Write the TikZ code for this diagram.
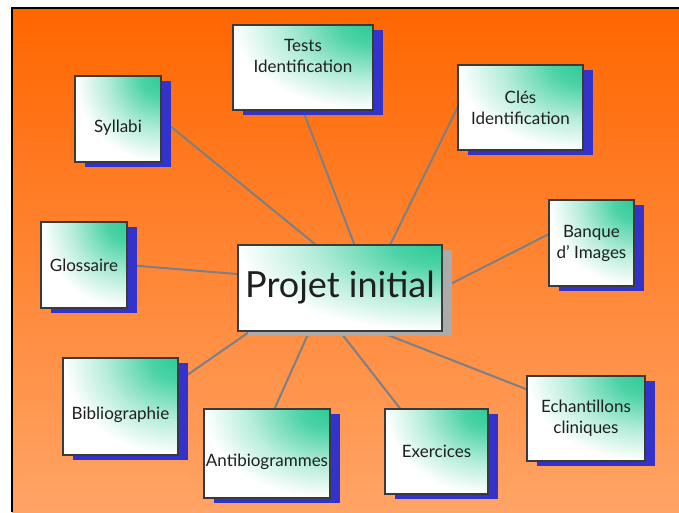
\documentclass[tikz,border=0pt]{standalone}
\usepackage{fontspec}
\setmainfont{Lato}
\usetikzlibrary{calc,shadows}
\definecolor{SkyOrange}{HTML}{FF6600}
\definecolor{PeachOrange}{HTML}{FFA466}
\definecolor{BoxGreen}{HTML}{2DCB97}
\definecolor{ShadowBlue}{HTML}{3333CC}
\definecolor{ShadowGray}{HTML}{ABABAB}
\definecolor{LinkGray}{HTML}{7C8084}
\definecolor{EdgeGray}{HTML}{3A3A3A}
\pgfdeclareradialshading{cornerglow}{\pgfpointorigin}{color(0bp)=(BoxGreen); color(6bp)=(BoxGreen!85!white); color(16bp)=(BoxGreen!35!white); color(25bp)=(white); color(50bp)=(white)}
\pgfdeclarelayer{backdrop}
\pgfdeclarelayer{links}
\pgfsetlayers{backdrop,links,main}
\newcommand\topicfont{\fontsize{17}{21}\selectfont}
\newcommand\hubfont{\fontsize{36}{40}\selectfont}
\newcommand\lift[2]{\raisebox{#1}[\height][\depth]{\begin{tabular}{@{}c@{}}#2\end{tabular}}}
\tikzset{
  topic/.style={draw=EdgeGray,line width=1.1pt,fill=white,text=black!88,
    font=\topicfont,align=center,inner sep=0pt,
    path picture={
      \shade[shading=cornerglow] let \p1=($(path picture bounding box.north east)-(path picture bounding box.south west)$) in
        (path picture bounding box.north east) ellipse [x radius={abs(\x1)},y radius={abs(\y1)}];
    },
    drop shadow={shadow xshift=9.5pt,shadow yshift=-5pt,fill=ShadowBlue,opacity=1}},
  hub/.style={topic,font=\hubfont,
    drop shadow={shadow xshift=10pt,shadow yshift=-5pt,fill=ShadowGray,opacity=1}},
  link/.style={draw=LinkGray,line width=2pt}
}

\begin{document}
\begin{tikzpicture}[x=1pt,y=-1pt]
  \useasboundingbox (0,0) rectangle (679,512);
  \begin{pgfonlayer}{backdrop}
    \shade[top color=SkyOrange,bottom color=PeachOrange] (12,8) rectangle (679,512);
    \draw[line width=2.5pt] (12,512) -- (12,8) -- (679,8);
  \end{pgfonlayer}

  % central topic
  \node[hub,minimum width=204pt,minimum height=86pt] (main) at (340,288) {Projet initial};

  % satellites
  \node[topic,minimum width=140pt,minimum height=85pt] (tests) at (303,67.5) {\lift{10pt}{Tests\\Identification}};
  \node[topic,minimum width=86pt,minimum height=86pt] (syl) at (118,119) {\lift{-9pt}{Syllabi}};
  \node[topic,minimum width=125pt,minimum height=85pt] (cles) at (520.5,107.5) {Clés\\Identification};
  \node[topic,minimum width=85pt,minimum height=86pt] (banque) at (591.5,243) {Banque\\d' Images};
  \node[topic,minimum width=86pt,minimum height=86pt] (gloss) at (84,265) {Glossaire};
  \node[topic,minimum width=115pt,minimum height=97pt] (biblio) at (120.5,406.5) {\lift{-9pt}{Bibliographie}};
  \node[topic,minimum width=126pt,minimum height=89pt] (antibio) at (267,453.5) {\lift{-9pt}{Antibiogrammes}};
  \node[topic,minimum width=103pt,minimum height=85pt] (exerc) at (436.5,451.5) {Exercices};
  \node[topic,minimum width=118pt,minimum height=85pt] (echant) at (586,418.5) {Echantillons\\cliniques};

  % attachment points
  \coordinate (m1) at ($(main.north west)!0.38!(main.north east)$);
  \coordinate (m2) at ($(main.north west)!0.57!(main.north east)$);
  \coordinate (m3) at ($(main.north west)!0.745!(main.north east)$);
  \coordinate (m4) at ($(main.north west)!0.34!(main.south west)$);
  \coordinate (m5) at ($(main.south west)!0.06!(main.south east)$);
  \coordinate (m6) at ($(main.south west)!0.35!(main.south east)$);
  \coordinate (m7) at ($(main.south west)!0.69!(main.south east)$);
  \coordinate (s1) at ($(banque.north west)!0.4!(banque.south west)$);
  \coordinate (s2) at ($(biblio.north east)!0.24!(biblio.south east)$);
  \coordinate (s3) at ($(antibio.north west)!0.56!(antibio.north east)$);
  \coordinate (s4) at ($(exerc.north west)!0.15!(exerc.north east)$);
  \coordinate (s5) at ($(echant.north west)!0.16!(echant.south west)$);

  \begin{pgfonlayer}{links}
    \foreach \a/\b in {syl.east/m1,tests.south/m2,cles.west/m3,s1/main.east,
        gloss.east/m4,s2/m5,s3/m6,s4/main.south,s5/m7}{
      \draw[link] (\a) -- (\b);
    }
  \end{pgfonlayer}
\end{tikzpicture}
\end{document}
